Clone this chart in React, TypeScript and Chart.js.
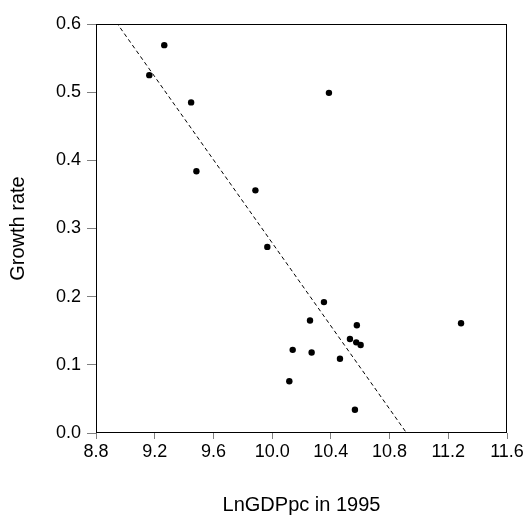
import React, { useEffect, useRef } from "react";
import { Chart, registerables } from "chart.js";

Chart.register(...registerables);

// Scatter data: LnGDPpc in 1995 vs growth rate
const lnGdp = [9.163, 9.265, 9.448, 9.484, 9.886, 9.967, 10.387, 10.353, 10.258, 10.577, 11.287, 10.53, 10.573, 10.603, 10.14, 10.269, 10.462, 10.117, 10.564];
const growth = [0.525, 0.569, 0.485, 0.384, 0.356, 0.273, 0.499, 0.192, 0.165, 0.158, 0.161, 0.138, 0.133, 0.129, 0.122, 0.118, 0.109, 0.076, 0.034];

// Fitted line: growth = intercept + slope * lnGdp
const fitIntercept = 3.326;
const fitSlope = -0.3047;
const fitX = [8.8, 11.6];

const xTicks = { min: 8.8, max: 11.6, step: 0.4 };
const yTicks = { min: 0.0, max: 0.6, step: 0.1 };

const FONT = "'Liberation Sans', Arial, Helvetica, sans-serif";

const frame = {
  id: "frame",
  afterDraw(chart: any) {
    const { ctx, chartArea } = chart;
    ctx.save();
    ctx.strokeStyle = "#000";
    ctx.lineWidth = 1;
    const l = Math.round(chartArea.left) + 0.5;
    const t = Math.round(chartArea.top) + 0.5;
    const r = Math.round(chartArea.right) - 0.5;
    const b = Math.round(chartArea.bottom) - 0.5;
    ctx.strokeRect(l, t, r - l, b - t);
    ctx.restore();
  },
};

export default function App() {
  const ref = useRef<HTMLCanvasElement | null>(null);

  useEffect(() => {
    document.body.style.margin = "0";
    const points = lnGdp.map((x, i) => ({ x, y: growth[i] }));
    const line = fitX.map((x) => ({ x, y: fitIntercept + fitSlope * x }));
    const chart = new Chart(ref.current as HTMLCanvasElement, {
      type: "scatter",
      data: {
        datasets: [
          {
            type: "line",
            data: line,
            borderColor: "#000",
            borderWidth: 1,
            borderDash: [4, 3],
            pointRadius: 0,
            fill: false,
            order: 2,
          } as any,
          {
            data: points,
            backgroundColor: "#000",
            borderColor: "#000",
            borderWidth: 0,
            pointRadius: 3.2,
            order: 1,
          },
        ],
      },
      options: {
        animation: false,
        responsive: false,
        maintainAspectRatio: false,
        layout: { padding: { top: 24, right: 19, left: 0, bottom: 0 } },
        plugins: { legend: { display: false }, tooltip: { enabled: false } },
        scales: {
          x: {
            type: "linear",
            min: xTicks.min,
            max: xTicks.max,
            afterFit: (s: any) => {
              s.height = 85;
            },
            ticks: {
              stepSize: xTicks.step,
              color: "#000",
              font: { family: FONT, size: 18 },
              padding: 2,
              maxRotation: 0,
              callback: (v: any) => Number(v).toFixed(1),
            },
            grid: { drawOnChartArea: false, drawTicks: true, tickLength: 6, color: "#808080" },
            border: { display: false },
            title: {
              display: true,
              text: "LnGDPpc in 1995",
              color: "#000",
              font: { family: FONT, size: 20 },
              padding: { top: 0, bottom: 1 },
            },
          },
          y: {
            type: "linear",
            min: yTicks.min,
            max: yTicks.max,
            afterFit: (s: any) => {
              s.width = 96;
            },
            ticks: {
              stepSize: yTicks.step,
              color: "#000",
              font: { family: FONT, size: 18 },
              padding: 6,
              callback: (v: any) => Number(v).toFixed(1),
            },
            grid: { drawOnChartArea: false, drawTicks: true, tickLength: 9, color: "#808080" },
            border: { display: false },
            title: {
              display: true,
              text: "Growth rate",
              color: "#000",
              font: { family: FONT, size: 20 },
              padding: { top: 6, bottom: 0 },
            },
          },
        },
      },
      plugins: [frame],
    });
    return () => chart.destroy();
  }, []);

  return <canvas ref={ref} width={526} height={518} style={{ display: "block" }} />;
}
